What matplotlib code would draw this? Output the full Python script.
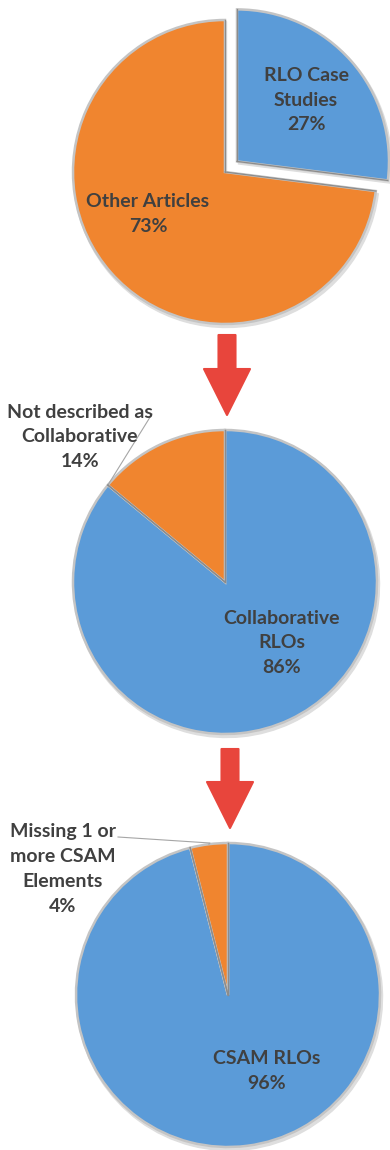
import numpy as np
import matplotlib.pyplot as plt
from matplotlib.patches import FancyArrow, Wedge

plt.rcParams['font.family'] = ['Lato', 'DejaVu Sans']

# funnel: all articles -> RLO case studies -> collaborative -> CSAM
top_labels = ['RLO Case\nStudies', 'Other Articles']
top_values = [27, 73]
mid_labels = ['Collaborative\nRLOs', 'Not described as\nCollaborative']
mid_values = [86, 14]
low_labels = ['CSAM RLOs', 'Missing 1 or\nmore CSAM\nElements']
low_values = [96, 4]

blue = '#5B9BD8'
orange = '#F0852F'
red = '#E8453C'
txt = '#404040'

W, H = 390, 1150
fig = plt.figure(figsize=(W / 100, H / 100), dpi=100)
ax = fig.add_axes([0, 0, 1, 1])

R = 152


def py(y):
    # pixel rows run downward, the axes run upward
    return H - y


def draw_pie(values, cx, cy, explode=None):
    wedges, _ = ax.pie(values, colors=[blue, orange], startangle=90, counterclock=False,
                       center=(cx, py(cy)), radius=R, explode=explode,
                       wedgeprops=dict(edgecolor='#c4c4c4', linewidth=1.8))
    for w in wedges:
        x0, y0 = w.center
        # soft shadow under the wedge
        ax.add_patch(Wedge((x0 + 1.5, y0 - 2.5), R + 1, w.theta1, w.theta2,
                           color='#dedede', zorder=0))
        # darker bevel line along the radial edges
        for t in (w.theta1, w.theta2):
            a = np.deg2rad(t)
            ax.plot([x0, x0 + R * np.cos(a)], [y0, y0 + R * np.sin(a)],
                    color='#8c8c8c', lw=0.9, zorder=3)
    return wedges


def label(s, v, x, y):
    ax.text(x, py(y), '%s\n%d%%' % (s, v), ha='center', va='center', fontsize=14,
            fontweight='bold', color=txt, linespacing=1.55)


# top pie, case studies pulled out
draw_pie(top_values, 225, 172, explode=[16, 0])
label(top_labels[0], top_values[0], 306, 100)
label(top_labels[1], top_values[1], 148, 214)

# middle pie
w2 = draw_pie(mid_values, 225, 582)
label(mid_labels[0], mid_values[0], 282, 643)
label(mid_labels[1], mid_values[1], 80, 437)
a = np.deg2rad(w2[1].theta2)
ax.plot([152, 225 + R * np.cos(a)], [py(414), py(582) + R * np.sin(a)], color='#a6a6a6', lw=0.8)

# bottom pie
w3 = draw_pie(low_values, 228, 995)
label(low_labels[0], low_values[0], 267, 1071)
label(low_labels[1], low_values[1], 63, 869)
a = np.deg2rad((w3[1].theta1 + w3[1].theta2) / 2)
ax.plot([118, 210, 228 + R * np.cos(a)], [py(837), py(843), py(995) + R * np.sin(a)],
        color='#a6a6a6', lw=0.8)

# arrows between the stages
for x, y0, y1 in [(227, 335, 415), (230, 749, 828)]:
    ax.add_patch(FancyArrow(x, py(y0), 0, -(y1 - y0), width=17, head_width=46,
                            head_length=46, length_includes_head=True, color=red,
                            joinstyle='round', lw=1.5))

ax.set_xlim(0, W)
ax.set_ylim(0, H)
ax.set_aspect('equal')
ax.axis('off')
fig.savefig('out.png', dpi=100, facecolor='white')
